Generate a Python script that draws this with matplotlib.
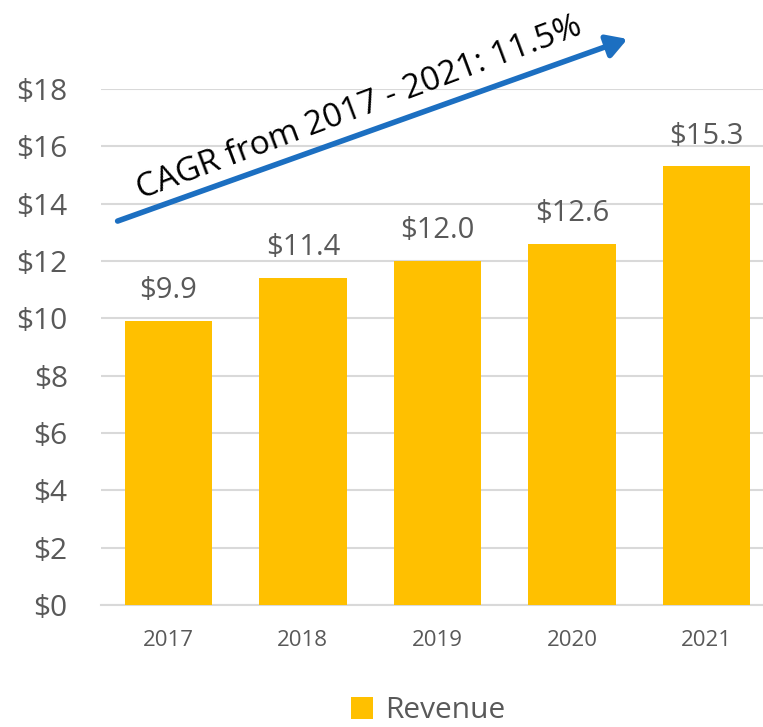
import matplotlib.pyplot as plt
import matplotlib.patheffects as pe

years = ['2017', '2018', '2019', '2020', '2021']
revenue = [9.9, 11.4, 12.0, 12.6, 15.3]
yticks = [0, 2, 4, 6, 8, 10, 12, 14, 16, 18]

plt.rcParams['font.family'] = ['Open Sans', 'DejaVu Sans']

fig = plt.figure(figsize=(7.63, 7.27), dpi=100)
ax = fig.add_axes([101 / 763, 1 - 605 / 727, 662 / 763, 516 / 727])

x = range(len(years))
bars = ax.bar(x, revenue, width=0.65, color='#FFC000', label='Revenue', zorder=3)
for xi, v in zip(x, revenue):
    ax.text(xi, v + 0.55, f'${v:.1f}', ha='center', va='bottom', fontsize=21, color='#595959')

ax.set_ylim(0, 18)
ax.set_xlim(-0.5, 4.42)
ax.set_yticks(yticks)
ax.set_yticklabels([f'${t}' for t in yticks], fontsize=21.5, color='#595959')
ax.set_xticks(list(x))
ax.set_xticklabels(years, fontsize=16, color='#595959')
ax.tick_params(length=0)
ax.tick_params(axis='y', pad=24)
ax.tick_params(axis='x', pad=18)
ax.grid(axis='y', color='#d9d9d9', lw=1.5, zorder=0)
for s in ['top', 'right', 'left']:
    ax.spines[s].set_visible(False)
ax.spines['bottom'].set_color('#d9d9d9')
ax.spines['bottom'].set_linewidth(1.5)

# CAGR arrow
fig.patches.append(plt.matplotlib.patches.FancyArrowPatch(
    (115 / 763, 1 - 222 / 727), (630 / 763, 1 - 38 / 727),
    transform=fig.transFigure, arrowstyle='-|>,head_length=6,head_width=3.5',
    color='#1C6FC1', lw=4, mutation_scale=2,
    path_effects=[pe.SimplePatchShadow(offset=(1.5, -1.5), alpha=0.3), pe.Normal()]))
fig.text(359 / 763, 1 - 108 / 727, 'CAGR from 2017 - 2021: 11.5%', rotation=20.5,
         rotation_mode='anchor', ha='center', va='center', fontsize=24, color='black')

fig.legend(handles=[bars], labels=['Revenue'], loc='center', bbox_to_anchor=(428 / 763, 1 - 711 / 727),
           frameon=False, fontsize=21.5, handlelength=0.75, handleheight=0.75, handletextpad=0.4,
           labelcolor='#595959')

fig.savefig('out.png', dpi=100)
